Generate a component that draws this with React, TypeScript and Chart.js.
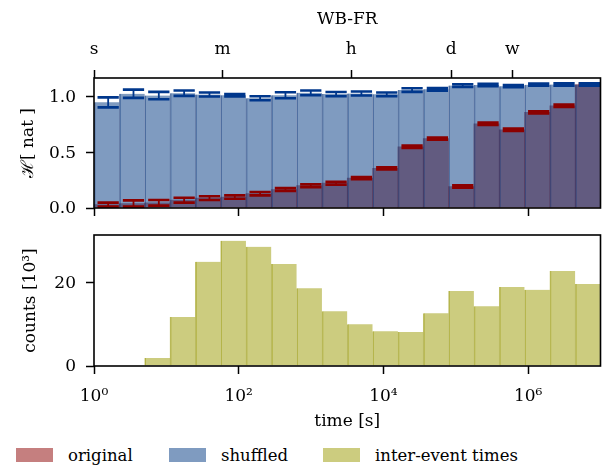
import React, { useEffect, useRef } from 'react';
import { Chart, registerables } from 'chart.js';

Chart.register(...registerables);

// ---- data ----
const binEdgesLog10 = [0, 0.35, 0.7, 1.05, 1.4, 1.75, 2.1, 2.45, 2.8, 3.15, 3.5, 3.85, 4.2, 4.55, 4.9, 5.25, 5.6, 5.95, 6.3, 6.65, 7.0];
const shuffledH = [0.945, 1.022, 1.006, 1.027, 1.015, 1.009, 0.982, 1.009, 1.03, 1.019, 1.024, 1.017, 1.055, 1.062, 1.095, 1.1, 1.09, 1.103, 1.105, 1.105];
const shuffledErr = [0.045, 0.037, 0.033, 0.024, 0.018, 0.01, 0.018, 0.027, 0.021, 0.019, 0.018, 0.016, 0.016, 0.012, 0.012, 0.01, 0.01, 0.01, 0.01, 0.01];
const originalH = [0.03, 0.04, 0.046, 0.07, 0.088, 0.098, 0.128, 0.165, 0.2, 0.222, 0.268, 0.354, 0.548, 0.62, 0.192, 0.754, 0.7, 0.856, 0.915, 1.105];
const originalErr = [0.018, 0.028, 0.025, 0.022, 0.017, 0.015, 0.015, 0.013, 0.013, 0.013, 0.01, 0.01, 0.01, 0.01, 0.01, 0.01, 0.01, 0.01, 0.01, 0.008];
const countsK = [0, 0.1, 1.9, 11.7, 24.9, 29.9, 28.5, 24.4, 18.6, 13.1, 10.0, 8.3, 8.1, 12.6, 17.9, 14.3, 18.9, 18.2, 22.7, 19.6];
const timeTickExp = [0, 2, 4, 6];
const unitTickSeconds = [1, 60, 3600, 86400, 604800];
const unitTickLabels = ['s', 'm', 'h', 'd', 'w'];
const hTicks = [0, 0.5, 1.0];
const countTicks = [0, 20];
const legendLabels = ['original', 'shuffled', 'inter-event times'];

const SUP: Record<number, string> = { 0: '\u2070', 1: '\u00b9', 2: '\u00b2', 3: '\u00b3', 4: '\u2074', 5: '\u2075', 6: '\u2076', 7: '\u2077' };

const FAMILY = "'DejaVu Serif', serif";
const FS = 17;
const font = { family: FAMILY, size: FS };

const RED = 'rgba(139,0,0,0.5)';
const BLUE = 'rgba(0,55,130,0.5)';
const OLIVE = 'rgba(153,153,0,0.5)';
const RED_ERR = '#8b0000';
const BLUE_ERR = '#00378c';

const binCenters = binEdgesLog10.slice(0, -1).map((e, i) => (e + binEdgesLog10[i + 1]) / 2);

const frame = {
  id: 'frame',
  afterDraw(chart: any) {
    const { ctx, chartArea: a } = chart;
    ctx.save();
    ctx.strokeStyle = '#000';
    ctx.lineWidth = 1.6;
    ctx.strokeRect(a.left, a.top, a.right - a.left, a.bottom - a.top);
    ctx.restore();
  },
};

const errorBars = {
  id: 'errorBars',
  afterDatasetsDraw(chart: any) {
    const { ctx } = chart;
    const x = chart.scales.x;
    const y = chart.scales.y;
    const series: [number[], number[], string][] = [
      [originalH, originalErr, RED_ERR],
      [shuffledH, shuffledErr, BLUE_ERR],
    ];
    ctx.save();
    ctx.lineCap = 'butt';
    for (const [vals, errs, col] of series) {
      ctx.strokeStyle = col;
      binCenters.forEach((c, i) => {
        const px = x.getPixelForValue(c) + 1.5;
        const half = (x.getPixelForValue(binEdgesLog10[i + 1]) - x.getPixelForValue(binEdgesLog10[i])) * 0.42;
        const top = y.getPixelForValue(vals[i] + errs[i]);
        const bot = y.getPixelForValue(vals[i] - errs[i]);
        ctx.lineWidth = 1.8;
        ctx.beginPath();
        ctx.moveTo(px, top);
        ctx.lineTo(px, bot);
        ctx.stroke();
        ctx.lineWidth = 2.6;
        ctx.beginPath();
        ctx.moveTo(px - half, top);
        ctx.lineTo(px + half, top);
        ctx.moveTo(px - half, bot);
        ctx.lineTo(px + half, bot);
        ctx.stroke();
      });
    }
    ctx.restore();
  },
};

const gridOpts = {
  drawOnChartArea: false,
  drawTicks: true,
  offset: false,
  tickLength: 8,
  tickWidth: 1.5,
  tickColor: '#000',
  color: '#000',
};

const noPadV = (height: number) => (s: any) => {
  s.height = height;
  s.paddingLeft = 0;
  s.paddingRight = 0;
};
const noPadH = (width: number) => (s: any) => {
  s.width = width;
  s.paddingTop = 0;
  s.paddingBottom = 0;
};

function TopChart() {
  const ref = useRef<HTMLCanvasElement>(null);
  useEffect(() => {
    const chart = new Chart(ref.current as HTMLCanvasElement, {
      type: 'bar',
      data: {
        datasets: [
          {
            label: 'shuffled',
            data: binCenters.map((c, i) => ({ x: c, y: shuffledH[i] })),
            backgroundColor: BLUE,
            borderColor: 'rgba(0,40,110,0.55)',
            borderWidth: { left: 1, right: 0, top: 0, bottom: 0 },
            borderSkipped: false,
            order: 1,
            grouped: false,
            barPercentage: 1,
            categoryPercentage: 1,
          } as any,
          {
            label: 'original',
            data: binCenters.map((c, i) => ({ x: c, y: originalH[i] })),
            backgroundColor: RED,
            borderWidth: 0,
            order: 2,
            grouped: false,
            barPercentage: 1,
            categoryPercentage: 1,
          } as any,
        ],
      },
      options: {
        animation: false,
        responsive: false,
        maintainAspectRatio: false,
        layout: { padding: { left: 0, right: 1.5, top: 0, bottom: 0 } },
        plugins: { legend: { display: false }, tooltip: { enabled: false } },
        scales: {
          x: {
            type: 'linear',
            position: 'bottom',
            min: 0,
            max: 7,
            offset: false,
            afterBuildTicks: (s: any) => {
              s.ticks = timeTickExp.map((v) => ({ value: v }));
            },
            afterFit: noPadV(17),
            ticks: { callback: () => '', autoSkip: false, font },
            grid: gridOpts,
            border: { display: false },
          },
          x2: {
            type: 'linear',
            position: 'top',
            min: 0,
            max: 7,
            offset: false,
            afterBuildTicks: (s: any) => {
              s.ticks = unitTickSeconds.map((v) => ({ value: Math.log10(v) }));
            },
            afterFit: noPadV(78),
            ticks: {
              callback: (_v: any, i: number) => unitTickLabels[i],
              autoSkip: false,
              maxRotation: 0,
              padding: 10,
              color: '#000',
              font,
            },
            grid: gridOpts,
            border: { display: false },
            title: { display: true, text: 'WB-FR', color: '#000', font, padding: { top: 9, bottom: 0 } },
          },
          y: {
            type: 'linear',
            min: 0,
            max: 1.163,
            afterBuildTicks: (s: any) => {
              s.ticks = hTicks.map((v) => ({ value: v }));
            },
            afterFit: noPadH(94),
            ticks: {
              callback: (v: any) => Number(v).toFixed(1),
              padding: 10,
              labelOffset: 1,
              color: '#000',
              font,
            },
            grid: gridOpts,
            border: { display: false },
            title: { display: true, text: '\u210b[ nat ]', color: '#000', font, padding: { top: 18, bottom: 0 } },
          },
        },
      } as any,
      plugins: [errorBars, frame],
    });
    return () => chart.destroy();
  }, []);
  return <canvas ref={ref} width={602} height={225} style={{ position: 'absolute', left: 0, top: 0, width: 602, height: 225 }} />;
}

function BottomChart() {
  const ref = useRef<HTMLCanvasElement>(null);
  useEffect(() => {
    const chart = new Chart(ref.current as HTMLCanvasElement, {
      type: 'bar',
      data: {
        datasets: [
          {
            label: 'inter-event times',
            data: binCenters.map((c, i) => ({ x: c, y: countsK[i] })),
            backgroundColor: OLIVE,
            borderColor: 'rgba(150,150,10,0.6)',
            borderWidth: { left: 1, right: 0, top: 0, bottom: 0 },
            borderSkipped: false,
            grouped: false,
            barPercentage: 1,
            categoryPercentage: 1,
          } as any,
        ],
      },
      options: {
        animation: false,
        responsive: false,
        maintainAspectRatio: false,
        layout: { padding: { left: 0, right: 1.5, top: 10, bottom: 0 } },
        plugins: { legend: { display: false }, tooltip: { enabled: false } },
        scales: {
          x: {
            type: 'linear',
            position: 'bottom',
            min: 0,
            max: 7,
            offset: false,
            afterBuildTicks: (s: any) => {
              s.ticks = timeTickExp.map((v) => ({ value: v }));
            },
            afterFit: noPadV(74),
            ticks: {
              callback: (v: any) => '10' + SUP[Math.round(Number(v))],
              autoSkip: false,
              maxRotation: 0,
              padding: 12,
              color: '#000',
              font,
            },
            grid: gridOpts,
            border: { display: false },
            title: { display: true, text: 'time [s]', color: '#000', font, padding: { top: 0, bottom: 8 } },
          },
          y: {
            type: 'linear',
            min: 0,
            max: 31.3,
            afterBuildTicks: (s: any) => {
              s.ticks = countTicks.map((v) => ({ value: v }));
            },
            afterFit: noPadH(94),
            ticks: { padding: 10, labelOffset: 1, color: '#000', font },
            grid: gridOpts,
            border: { display: false },
            title: { display: true, text: 'counts [10\u00b3]', color: '#000', font, padding: { top: 20, bottom: 0 } },
          },
        },
      } as any,
      plugins: [frame],
    });
    return () => chart.destroy();
  }, []);
  return <canvas ref={ref} width={602} height={215} style={{ position: 'absolute', left: 0, top: 225, width: 602, height: 215 }} />;
}

const legendColors = [RED, BLUE, OLIVE];
const legendLeft = [16, 169, 323];

export default function App() {
  return (
    <div style={{ position: 'fixed', left: 0, top: 0, width: 602, height: 475, background: '#fff', overflow: 'hidden' }}>
      <TopChart />
      <BottomChart />
      {legendLabels.map((lab, i) => (
        <div key={lab} style={{ position: 'absolute', left: legendLeft[i], top: 445, height: 20, display: 'flex', alignItems: 'center', fontFamily: FAMILY, fontSize: 16.5, color: '#000', whiteSpace: 'nowrap' }}>
          <span style={{ display: 'inline-block', width: 37, height: 14, background: legendColors[i], marginRight: 15 }} />
          <span>{lab}</span>
        </div>
      ))}
    </div>
  );
}
